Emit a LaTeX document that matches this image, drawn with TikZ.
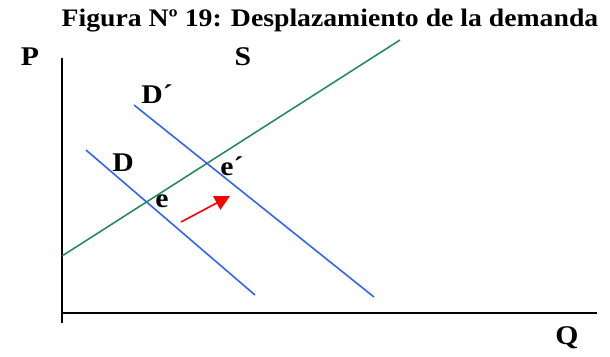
\documentclass[tikz,border=0pt]{standalone}
\usepackage{graphicx}
\usepackage{fontspec}
\setmainfont{Liberation Serif}
\usetikzlibrary{arrows.meta}
\definecolor{sgreen}{RGB}{40,140,90}
\definecolor{dblue}{RGB}{50,100,245}
\newcommand{\wide}[1]{\scalebox{1.1}[1]{#1}}
\tikzset{
  axis/.style={line width=2pt,black},
  demand/.style={line width=1.6pt,dblue},
  supply/.style={line width=1.6pt,sgreen},
  lab/.style={font=\bfseries\fontsize{27}{29}\selectfont,inner sep=0pt},
}
\begin{document}
\begin{tikzpicture}[x=1pt,y=-1pt]
\useasboundingbox (0,0) rectangle (610,356);
\node[font=\bfseries\fontsize{25.2}{28}\selectfont,inner sep=0pt] (title) at (330,21) {\wide{Figura Nº 19: Desplazamiento de la demanda}};
% axes
\coordinate (ytop) at (62,58);
\coordinate (ybot) at (62,323);
\coordinate (xl) at (62,313);
\coordinate (xr) at (597,313);
\draw[axis] (ytop) -- (ybot);
\draw[axis] (xl) -- (xr);
% supply
\coordinate (s1) at (62,256);
\coordinate (s2) at (400,40);
\draw[supply] (s1) -- (s2);
% demand
\coordinate (d1) at (86,150);
\coordinate (d2) at (255,295);
\draw[demand] (d1) -- (d2);
\coordinate (dp1) at (134,105);
\coordinate (dp2) at (374,297);
\draw[demand] (dp1) -- (dp2);
% arrow
\coordinate (a1) at (181,222);
\coordinate (a2) at (230,196);
\draw[red,line width=1.6pt,-{Triangle[length=15pt,width=15pt]}] (a1) -- (a2);
% labels
\node[lab] (P) at (30,57) {\wide{P}};
\node[lab] (S) at (243,57) {\wide{S}};
\node[lab] (Dp) at (157,94) {\wide{D´}};
\node[lab] (D) at (123,163) {\wide{D}};
\node[lab] (ep) at (232,166) {\wide{e´}};
\node[lab] (e) at (162,201) {\wide{e}};
\node[lab] (Q) at (567,338) {\wide{Q}};
\end{tikzpicture}
\end{document}
